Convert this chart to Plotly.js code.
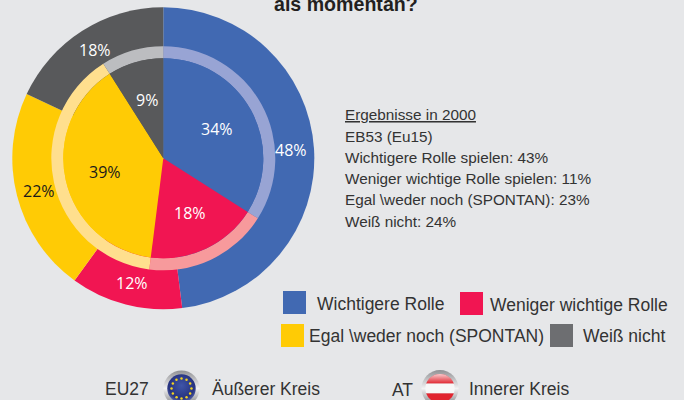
<!DOCTYPE html>
<html><head><meta charset="utf-8">
<script src="https://cdn.plot.ly/plotly-3.0.1.min.js"></script>
<style>html,body{margin:0;padding:0;background:#e6e7e9;overflow:hidden}</style></head>
<body><div id="c" style="width:684px;height:400px"></div>
<script>
const W=684,H=400;
const categories=["Wichtigere Rolle","Weniger wichtige Rolle","Egal \\weder noch (SPONTAN)","Weiß nicht"];
const eu27=[48,12,22,18];
const at=[34,18,39,9];
const colors=["#4169b2","#f11552","#ffcb05","#58595b"];
const ringColors=["#98a4d4","#f79a9c","#ffdf8e","#bcbdc0"];
const legendColors=["#4169b2","#f11552","#ffcb05","#6d6e71"];
const resultLines=["<span style='text-decoration:underline'>Ergebnisse in 2000</span>","EB53 (Eu15)","Wichtigere Rolle spielen: 43%","Weniger wichtige Rolle spielen: 11%","Egal \\weder noch (SPONTAN): 23%","Weiß nicht: 24%"];
const cx=163.3,cy=158.3;
const px=x=>x/W, py=y=>1-y/H;
const dom=r=>({x:[px(cx-r),px(cx+r)],y:[py(cy+r),py(cy-r)]});
const pie=(vals,cols,r,hole)=>({type:"pie",values:vals,labels:categories,sort:false,direction:"clockwise",rotation:0,
  marker:{colors:cols,line:{width:0}},textinfo:"none",hoverinfo:"label+value",showlegend:false,hole:hole||0,domain:dom(r)});
const data=[pie(eu27,colors,151),pie(at,ringColors,112,100/112),pie(at,colors,100)];
const ann=(t,x,y,size,col,fam,extra)=>Object.assign({text:t,x:px(x),y:py(y),xref:"paper",yref:"paper",showarrow:false,
  xanchor:"center",yanchor:"middle",font:{size:size,color:col,family:fam}},extra||{});
const OS="Open Sans", LS="'Liberation Sans'";
const annotations=[
 ann("48%",291,150,16,"#fff",OS),ann("34%",217,129,16,"#fff",OS),ann("18%",190,213,16,"#fff",OS),
 ann("12%",132,283,16,"#fff",OS),ann("22%",39,191,16,"#1a1a1a",OS),ann("39%",105,172,16,"#1a1a1a",OS),
 ann("18%",95,50,16,"#fff",OS),ann("9%",147,100,16,"#fff",OS),
 ann("<b>als momentan?</b>",345.5,4,19.6,"#231f20",LS),
 ann(categories[0],380,304,17.5,"#333",LS),ann(categories[1],578.5,305,17.5,"#333",LS),
 ann(categories[2],426,336,17.5,"#333",LS),ann(categories[3],624,336,17.5,"#333",LS),
 ann("EU27",127,389,17.5,"#333",LS),ann("Äußerer Kreis",265.5,389,17.5,"#333",LS),
 ann("AT",402,390,17.5,"#333",LS),ann("Innerer Kreis",519,389,17.5,"#333",LS)
];
resultLines.forEach((t,i)=>annotations.push(ann(t,343,115+i*21.2,15.3,"#333",LS,{xanchor:"left"})));
const rect=(x0,y0,x1,y1,c)=>({type:"rect",xref:"paper",yref:"paper",x0:px(x0),x1:px(x1),y0:py(y0),y1:py(y1),fillcolor:c,line:{width:0}});
const shapes=[rect(283,291,306,314,legendColors[0]),rect(460,292,483,315,legendColors[1]),
 rect(281,324,304,347,legendColors[2]),rect(550,324,573,347,legendColors[3])];
const rim=`<defs><linearGradient id="g" x1="0" y1="0" x2="0" y2="1"><stop offset="0" stop-color="#8f9093"/><stop offset=".5" stop-color="#f2f2f3"/><stop offset="1" stop-color="#77787b"/></linearGradient><radialGradient id="b" cy=".4" r=".6"><stop offset="0" stop-color="#3f55a8"/><stop offset=".75" stop-color="#27337f"/><stop offset="1" stop-color="#5a68ac"/></radialGradient><linearGradient id="w" x1="0" y1="0" x2="0" y2="1"><stop offset="0" stop-color="#fff" stop-opacity=".85"/><stop offset="1" stop-color="#fff" stop-opacity="0"/></linearGradient><clipPath id="k"><circle cx="20" cy="20" r="15"/></clipPath></defs><circle cx="20" cy="20" r="19" fill="url(#g)"/>`;
let dots="";
for(let i=0;i<12;i++){const a=i*Math.PI/6;dots+=`<circle cx="${(20+10.5*Math.sin(a)).toFixed(1)}" cy="${(20-10.5*Math.cos(a)).toFixed(1)}" r="1.3" fill="#f4d320"/>`;}
const euSvg=`<svg xmlns="http://www.w3.org/2000/svg" width="40" height="40" viewBox="0 0 40 40">${rim}<circle cx="20" cy="20" r="15" fill="url(#b)"/>${dots}</svg>`;
const atSvg=`<svg xmlns="http://www.w3.org/2000/svg" width="40" height="40" viewBox="0 0 40 40">${rim}<g clip-path="url(#k)"><rect x="0" y="0" width="40" height="15" fill="#e1252f"/><rect x="0" y="15" width="40" height="10" fill="#f7f7f7"/><rect x="0" y="25" width="40" height="15" fill="#e1252f"/><rect x="0" y="4" width="40" height="11" fill="url(#w)"/></g></svg>`;
const uri=s=>"data:image/svg+xml;charset=utf-8,"+encodeURIComponent(s);
const img=(s,x,y,r)=>({source:uri(s),xref:"paper",yref:"paper",x:px(x-r),y:py(y-r),sizex:2*r/W,sizey:2*r/H,xanchor:"left",yanchor:"top",sizing:"stretch",layer:"above"});
const images=[img(euSvg,181.5,388.5,19),img(atSvg,440,388.5,19.5)];
const layout={width:W,height:H,margin:{l:0,r:0,t:0,b:0},paper_bgcolor:"#e6e7e9",plot_bgcolor:"#e6e7e9",annotations,shapes,images,showlegend:false};
Plotly.newPlot("c",data,layout,{displayModeBar:false,staticPlot:true});
</script></body></html>
